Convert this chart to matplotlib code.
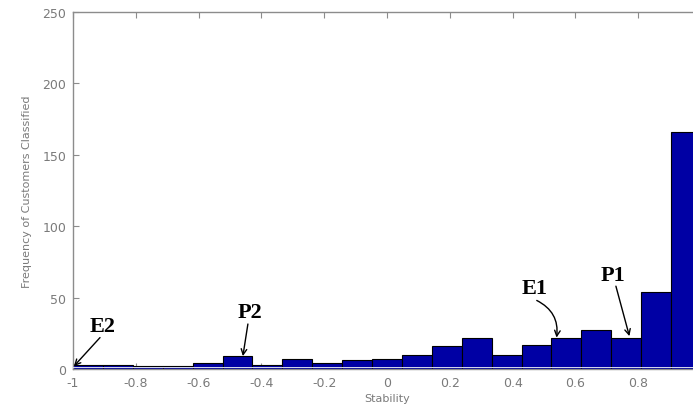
import numpy as np
import matplotlib.pyplot as plt

# histogram counts, 21 equal bins over stability -1..1
bin_lo = -1.0
bin_hi = 1.0
n_bins = 21
counts = [3, 3, 2, 2, 4, 9, 3, 7, 4, 6, 7, 10, 16, 22, 10, 17, 22, 27, 22, 54, 166]

xticks = [-1, -0.8, -0.6, -0.4, -0.2, 0, 0.2, 0.4, 0.6, 0.8, 1]
xtick_labels = ['-1', '-0.8', '-0.6', '-0.4', '-0.2', '0', '0.2', '0.4', '0.6', '0.8', '']
yticks = [0, 50, 100, 150, 200, 250]

# annotation labels: (text, text centre, arrow tail, arrow head, curvature)
notes = [
    ('E2', (-0.905, 30), (-0.914, 22), (-0.997, 2), 0.0),
    ('P2', (-0.436, 40), (-0.443, 31.5), (-0.459, 9), 0.0),
    ('E1', (0.471, 57), (0.477, 48), (0.540, 22), -0.35),
    ('P1', (0.721, 66), (0.729, 58), (0.772, 23), 0.0),
]

edges = np.linspace(bin_lo, bin_hi, n_bins + 1)

fig = plt.figure(figsize=(6.93, 4.06), dpi=100)
ax = fig.add_axes([73 / 693, 36 / 406, 628 / 693, 357 / 406])

ax.bar(edges[:-1], counts, width=np.diff(edges), align='edge',
       color='#0000a4', edgecolor='black', linewidth=0.8, zorder=2)
ax.axhline(1.2, color='#d8dcf0', lw=0.7, zorder=3)

ax.set_xlim(-1, 1)
ax.set_ylim(0, 250)
ax.set_xticks(xticks)
ax.set_xticklabels(xtick_labels)
ax.set_yticks(yticks)

grey = '#7a7a7a'
for s in ax.spines.values():
    s.set_color('#8c8c8c')
    s.set_linewidth(1.0)
ax.tick_params(direction='in', length=4, color='#8c8c8c', labelcolor=grey,
               labelsize=9, top=True, right=True)
ax.tick_params(axis='x', pad=5)
ax.tick_params(axis='y', pad=5)

ax.set_xlabel('Stability', fontsize=8, color=grey, labelpad=3)
ax.set_ylabel('Frequency of Customers Classified', fontsize=8, color=grey,
              labelpad=7)

for label, txy, tail, head, rad in notes:
    ax.text(txy[0], txy[1], label, ha='center', va='center', fontsize=16,
            fontweight='bold', family='Liberation Serif', zorder=5)
    ax.annotate('', xy=head, xytext=tail,
                arrowprops=dict(arrowstyle='->', color='black', lw=1.0,
                                shrinkA=0, shrinkB=0,
                                connectionstyle='arc3,rad=%s' % rad),
                zorder=5)

fig.savefig('out.png', dpi=100)
